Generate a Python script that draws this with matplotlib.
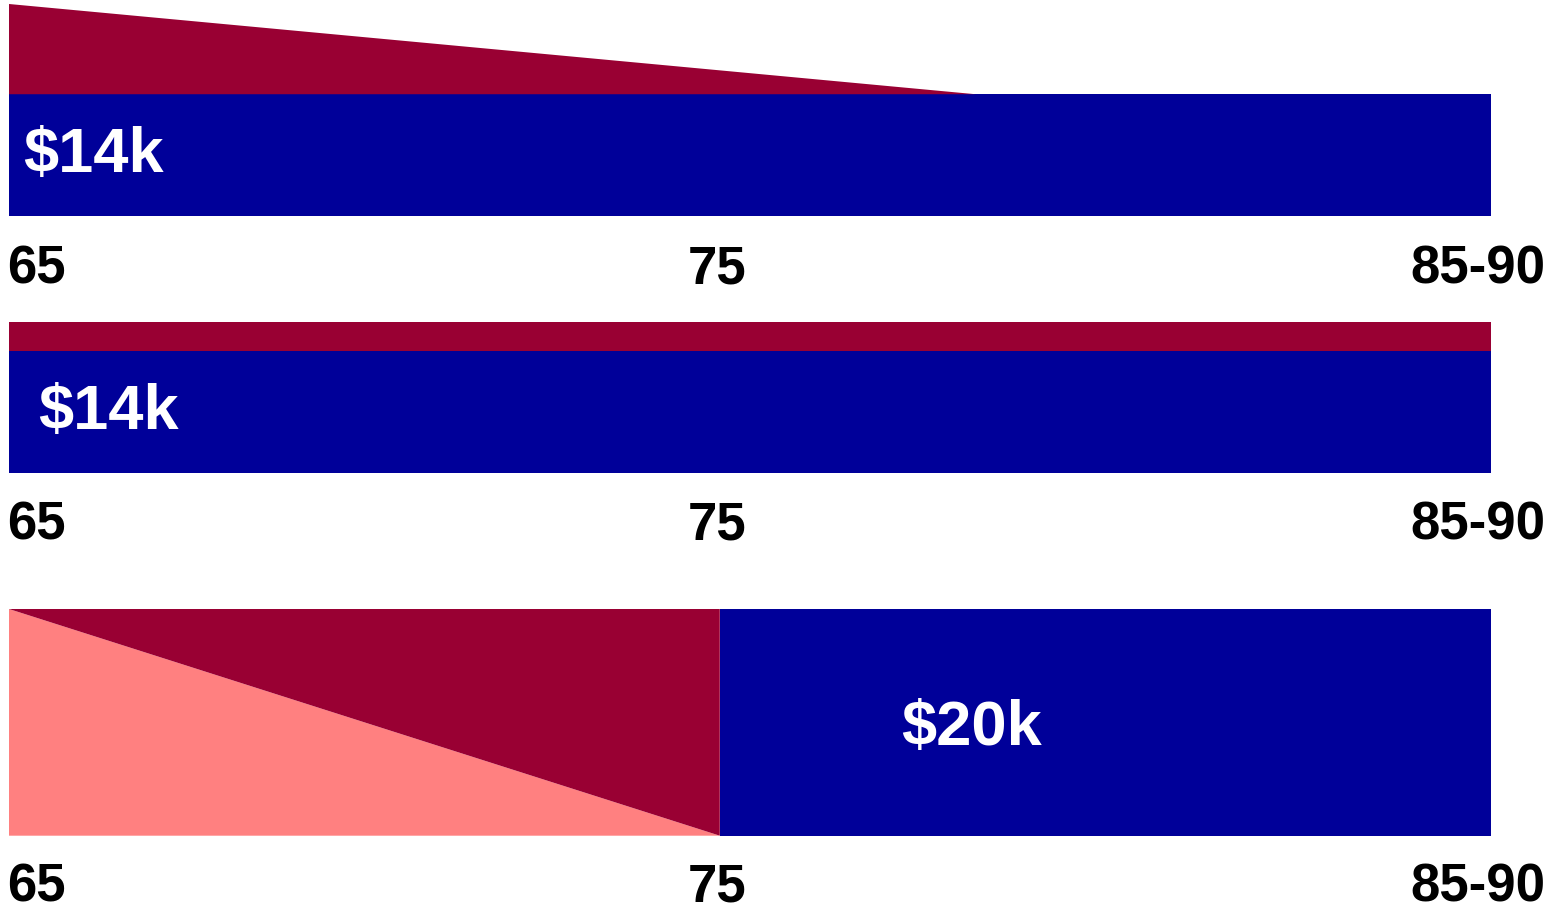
import matplotlib
matplotlib.use("Agg")
import matplotlib.pyplot as plt

# ---- data ($k by age) ----
age_labels = ["65", "75", "85-90"]
age_start, age_mid, age_end = 65, 75, 85.85

# panel 1: base income constant, extra income tapering off by ~78.6
p1_x = [65, 78.6, 85.85]
p1_base = [14, 14, 14]
p1_extra = [10.4, 0, 0]
p1_label = "$14k"

# panel 2: base + constant extra
p2_x = [65, 85.85]
p2_base = [14, 14]
p2_extra = [3.3, 3.3]
p2_label = "$14k"

# panel 3: pink shrinking, dark red growing until 75, then blue from 75
p3_x = [65, 75, 75, 85.85]
p3_pink = [20, 0, 0, 0]
p3_red = [0, 20, 0, 0]
p3_blue = [0, 0, 20, 20]
p3_label = "$20k"

BLUE = "#000099"
RED = "#990033"
PINK = "#FF8080"

W, H = 1551, 908
fig = plt.figure(figsize=(W / 100, H / 100), dpi=100)
plt.rcParams['font.family'] = ['Liberation Sans', 'DejaVu Sans']


def add_axes(top, bottom, left=9, right=1491):
    return fig.add_axes([left / W, 1 - bottom / H, (right - left) / W, (bottom - top) / H])


def style(ax, ymax):
    ax.set_xlim(age_start, age_end)
    ax.set_ylim(0, ymax)
    ax.set_axis_off()


def ftext(x, y, s, **kw):
    fig.text(x / W, 1 - y / H, s, fontweight='bold', **kw)


# Panel 1
ax1 = add_axes(4, 215.7)
ax1.stackplot(p1_x, p1_base, p1_extra, colors=[BLUE, RED], linewidth=0)
style(ax1, max(b + e for b, e in zip(p1_base, p1_extra)))

# Panel 2
ax2 = add_axes(322, 472.7)
ax2.stackplot(p2_x, p2_base, p2_extra, colors=[BLUE, RED], linewidth=0)
style(ax2, max(b + e for b, e in zip(p2_base, p2_extra)))

# Panel 3
ax3 = add_axes(609, 835.7)
ax3.stackplot(p3_x, p3_pink, p3_red, p3_blue, colors=[PINK, RED, BLUE], linewidth=0)
style(ax3, 20)

# value labels
ftext(23, 172, p1_label, color='white', fontsize=45.5, ha='left', va='baseline')
ftext(38, 429, p2_label, color='white', fontsize=45.5, ha='left', va='baseline')
ftext(901, 745, p3_label, color='white', fontsize=45.5, ha='left', va='baseline')

# age labels under each panel
for base_y in (283, 540, 901):
    ftext(7, base_y, age_labels[0], color='black', fontsize=38, ha='left', va='baseline')
    ftext(717, base_y, age_labels[1], color='black', fontsize=38, ha='center', va='baseline')
    ftext(1545, base_y, age_labels[2], color='black', fontsize=38, ha='right', va='baseline')

fig.savefig("out.png", dpi=100, facecolor='white')
